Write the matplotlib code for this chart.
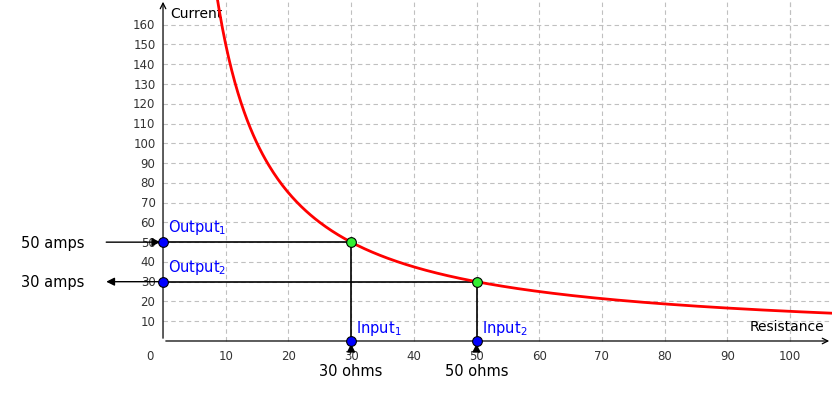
import matplotlib.pyplot as plt
import numpy as np

inputs = [30, 50]
outputs = [50, 30]
input_labels = ['30 ohms', '50 ohms']
output_labels = ['50 amps', '30 amps']
k = 1500  # current = k / resistance
x_ticks = list(range(10, 101, 10))
y_ticks = list(range(10, 161, 10))

fig = plt.figure(figsize=(8.32, 4.10), dpi=100)
ax = fig.add_axes([0, 0, 1, 1])
ax.set_xlim(-26, 106.7)
ax.set_ylim(-34.4, 173)
ax.axis('off')

for x in x_ticks + [100]:
    ax.plot([x, x], [0, 173], color='#c0c0c0', ls=(0, (4, 3)), lw=0.8, zorder=0)
for y in y_ticks:
    ax.plot([0, 106.7], [y, y], color='#c0c0c0', ls=(0, (4, 3)), lw=0.8, zorder=0)

ax.annotate('', xy=(106.7, 0), xytext=(0, 0), arrowprops=dict(arrowstyle='->', lw=0.9, color='black'))
ax.annotate('', xy=(0, 173), xytext=(0, 0), arrowprops=dict(arrowstyle='->', lw=0.9, color='black'))
for x in x_ticks:
    ax.text(x, -4, str(x), ha='center', va='top', fontsize=8.5, color='#333')
ax.text(-1.5, -4, '0', ha='right', va='top', fontsize=8.5, color='#333')
for y in y_ticks:
    ax.text(-1.2, y, str(y), ha='right', va='center', fontsize=8.5, color='#333')
ax.text(1.2, 166, 'Current', ha='left', va='center', fontsize=10)
ax.text(105.5, 4, 'Resistance', ha='right', va='bottom', fontsize=10)

r = np.linspace(8.5, 106.7, 400)
ax.plot(r, k / r, color='red', lw=2, zorder=3)

for i, (xi, yo) in enumerate(zip(inputs, outputs)):
    ax.plot([xi, xi], [0, yo], color='black', lw=1.2, zorder=2)
    ax.plot([0, xi], [yo, yo], color='black', lw=1.2, zorder=2)
    ax.annotate('', xy=(xi, 0), xytext=(xi, -6),
                arrowprops=dict(arrowstyle='-|>', lw=1, color='black', mutation_scale=12))
    ax.plot(xi, yo, 'o', color='#33ee33', mec='black', mew=0.8, ms=7, zorder=5)
    ax.plot(xi, 0, 'o', color='blue', mec='black', mew=0.8, ms=7, zorder=5)
    ax.plot(0, yo, 'o', color='blue', mec='black', mew=0.8, ms=7, zorder=5)
    ax.text(xi + 0.8, 2, f'Input$_{i + 1}$', color='blue', fontsize=10.5, va='bottom')
    ax.text(0.8, yo + 3, f'Output$_{i + 1}$', color='blue', fontsize=10.5, va='bottom')
    ax.text(xi, -11, input_labels[i], ha='center', va='top', fontsize=10.5)
    ax.text(-12.5, yo, output_labels[i], ha='right', va='center', fontsize=10.5)

ax.annotate('', xy=(0, outputs[0]), xytext=(-9.5, outputs[0]),
            arrowprops=dict(arrowstyle='-|>', lw=1, color='black', mutation_scale=12))
ax.annotate('', xy=(-9.5, outputs[1]), xytext=(0, outputs[1]),
            arrowprops=dict(arrowstyle='-|>', lw=1, color='black', mutation_scale=12))

fig.savefig('out.png', dpi=100)
